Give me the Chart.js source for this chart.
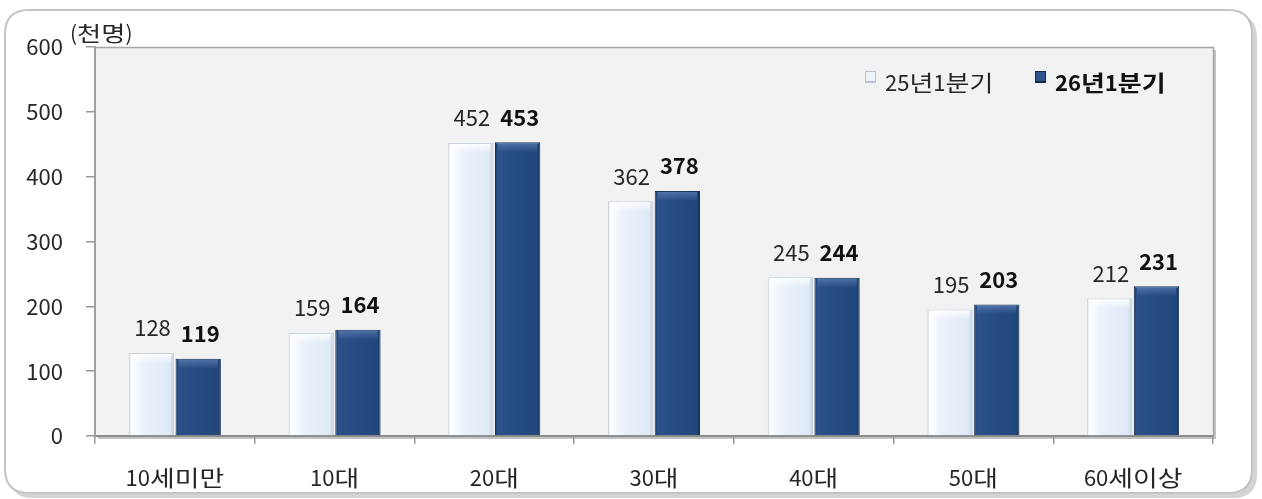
<!DOCTYPE html>
<html><head><meta charset="utf-8">
<script src="https://cdn.jsdelivr.net/npm/chart.js@4"></script>
<style>html,body{margin:0;padding:0;background:#fff}#wrap{width:1262px;height:499px;position:relative}</style>
</head><body><div id="wrap"><canvas id="c" width="1262" height="499"></canvas></div>
<script>
const categories = ['10세미만','10대','20대','30대','40대','50대','60세이상'];
const series2025 = [128,159,452,362,245,195,212];
const series2026 = [119,164,453,378,244,203,231];
const seriesNames = ['25년1분기','26년1분기'];
const yTicks = [0,100,200,300,400,500,600];
const unitLabel = '(천명)';

const FONT = "'Noto Sans CJK KR','Noto Sans',sans-serif";
const TXT = '#262626';
const CAT_PCT = 0.585, BAR_PCT = 0.97;

function barGeom(chart, di, idx){
  const xs = chart.scales.x;
  const catW = (xs.right - xs.left)/categories.length;
  const grp = catW*CAT_PCT, bw = grp/2*BAR_PCT;
  const cx = xs.getPixelForValue(idx) + (di===0 ? -grp/4 : grp/4);
  return {x0: cx-bw/2, w: bw};
}
function barFill(ctx, light){
  const chart = ctx.chart;
  if(!chart.chartArea || !chart.scales.x || ctx.type!=='data') return light ? '#e6effa' : '#254b7f';
  const g0 = barGeom(chart, ctx.datasetIndex, ctx.dataIndex);
  const g = chart.ctx.createLinearGradient(g0.x0,0,g0.x0+g0.w,0);
  if(light){
    g.addColorStop(0,'#d3dbe5');g.addColorStop(0.05,'#fdfeff');g.addColorStop(0.3,'#ecf2fb');g.addColorStop(0.9,'#e0eaf7');g.addColorStop(1,'#c4cedb');
  } else {
    g.addColorStop(0,'#1b375f');g.addColorStop(0.06,'#2a5189');g.addColorStop(0.5,'#254b81');g.addColorStop(0.93,'#22477b');g.addColorStop(1,'#142b4e');
  }
  return g;
}

function roundRect(c,x,y,w,h,r){
  c.beginPath();c.moveTo(x+r,y);c.lineTo(x+w-r,y);c.quadraticCurveTo(x+w,y,x+w,y+r);
  c.lineTo(x+w,y+h-r);c.quadraticCurveTo(x+w,y+h,x+w-r,y+h);c.lineTo(x+r,y+h);
  c.quadraticCurveTo(x,y+h,x,y+h-r);c.lineTo(x,y+r);c.quadraticCurveTo(x,y,x+r,y);c.closePath();
}
const isHangul = ch => /[\uac00-\ud7a3]/.test(ch);
function wideText(c, text, x, y, sc, align){
  const chars = Array.from(text);
  const scales = chars.map(ch=> isHangul(ch) ? sc : 1);
  const widths = chars.map((ch,i)=>c.measureText(ch).width*scales[i]);
  const total = widths.reduce((a,b)=>a+b,0);
  let sx = align==='center' ? x-total/2 : (align==='right' ? x-total : x);
  const prev = c.textAlign; c.textAlign='left';
  chars.forEach((ch,i)=>{
    c.save();c.translate(sx,y);c.scale(scales[i],1);c.fillText(ch,0,0);c.restore();
    sx+=widths[i];
  });
  c.textAlign=prev;
}

const framePlugin = {
  id:'frame',
  beforeDraw(chart){
    const c = chart.ctx, a = chart.chartArea;
    c.save();
    c.fillStyle='#d4d4d4';
    roundRect(c,9,14,1248,484,24);c.fill();
    c.fillStyle='#fff';
    roundRect(c,5,10,1247,483,24);c.fill();
    c.strokeStyle='#c4c4c4';c.lineWidth=2;
    roundRect(c,5,10,1247,483,24);c.stroke();
    c.fillStyle='#c2c2c2';
    c.fillRect(a.left+3,a.top+3,a.right-a.left,a.bottom-a.top);
    c.fillStyle='#f2f2f2';
    c.fillRect(a.left,a.top,a.right-a.left,a.bottom-a.top);
    c.strokeStyle='#a6a6a6';c.lineWidth=1.5;
    c.beginPath();c.moveTo(a.left,a.top+0.5);c.lineTo(a.right+0.5,a.top+0.5);c.lineTo(a.right+0.5,a.bottom);c.stroke();
    c.restore();
  },
  afterDatasetsDraw(chart){
    const c = chart.ctx;
    c.save();
    chart.data.datasets.forEach((ds,i)=>{
      const meta = chart.getDatasetMeta(i);
      meta.data.forEach((bar,j)=>{
        const g0 = barGeom(chart,i,j);
        const gr = c.createLinearGradient(0,bar.y,0,bar.y+10);
        if(i===0){gr.addColorStop(0,'rgba(255,255,255,0.95)');gr.addColorStop(1,'rgba(255,255,255,0)');}
        else {gr.addColorStop(0,'rgba(120,150,200,0.55)');gr.addColorStop(1,'rgba(120,150,200,0)');}
        c.fillStyle=gr;
        c.fillRect(g0.x0+3,bar.y+1,g0.w-6,10);
      });
    });
    c.restore();
  },
  afterDraw(chart){
    const c = chart.ctx;
    const ys = chart.scales.y, xs = chart.scales.x;
    c.save();
    c.fillStyle=TXT;c.textBaseline='middle';
    c.font = `22px ${FONT}`;c.textAlign='right';
    yTicks.forEach(v=>{ c.fillText(String(v), 63, ys.getPixelForValue(v)); });
    c.font = `21px ${FONT}`;
    wideText(c, unitLabel, 70, 33, 1.25, 'left');
    c.font = `22px ${FONT}`;
    categories.forEach((lab,i)=>{ wideText(c, lab, xs.getPixelForValue(i), 478, 1.22, 'center'); });
    chart.data.datasets.forEach((ds,i)=>{
      const meta = chart.getDatasetMeta(i);
      c.font = (i===1?'bold ':'')+`22px ${FONT}`;
      c.textAlign='center';c.fillStyle= i===1?'#111':TXT;
      meta.data.forEach((bar,j)=>{
        c.fillText(String(ds.data[j]), bar.x + (i===0?1:2), bar.y-25);
      });
    });
    const items = [
      {x:865, light:true, text:seriesNames[0], bold:false},
      {x:1035, light:false, text:seriesNames[1], bold:true}
    ];
    items.forEach(it=>{
      c.fillStyle = it.light ? '#b9c3cf' : '#142b4e';
      c.fillRect(it.x,71,11,12);
      c.fillStyle = it.light ? '#eef3fa' : '#2c5590';
      c.fillRect(it.x+1,72,9,9);
      c.font = (it.bold?'bold ':'')+`22px ${FONT}`;
      c.fillStyle = it.bold?'#111':TXT;c.textBaseline='middle';
      wideText(c, it.text, it.x+20, 83, 1.18, 'left');
    });
    c.restore();
  }
};

new Chart(document.getElementById('c'),{
  type:'bar',
  data:{
    labels:categories,
    datasets:[
      {label:seriesNames[0],data:series2025,backgroundColor:(ctx)=>barFill(ctx,true),borderColor:'#c9d1dc',borderWidth:{left:1,right:1,top:1,bottom:0},borderSkipped:false,categoryPercentage:CAT_PCT,barPercentage:BAR_PCT},
      {label:seriesNames[1],data:series2026,backgroundColor:(ctx)=>barFill(ctx,false),borderColor:'#173159',borderWidth:{left:1,right:1,top:1,bottom:0},borderSkipped:false,categoryPercentage:CAT_PCT,barPercentage:BAR_PCT}
    ]
  },
  options:{
    responsive:false,animation:false,
    layout:{padding:{left:0,right:49,top:47,bottom:0}},
    plugins:{legend:{display:false},tooltip:{enabled:false}},
    scales:{
      x:{
        offset:true,
        grid:{offset:true,drawOnChartArea:false,drawTicks:true,tickLength:8,color:'#999',lineWidth:1.5},
        border:{color:'#8c8c8c',width:2},
        ticks:{display:false},
        afterFit(s){s.height=63;}
      },
      y:{
        min:0,max:600,
        afterBuildTicks(s){s.ticks=yTicks.map(v=>({value:v}));},
        grid:{drawOnChartArea:false,drawTicks:true,tickLength:9,color:'#999',lineWidth:1.5},
        border:{color:'#a0a0a0',width:2},
        ticks:{display:false},
        afterFit(s){s.width=95;}
      }
    }
  },
  plugins:[framePlugin]
});
</script></body></html>
